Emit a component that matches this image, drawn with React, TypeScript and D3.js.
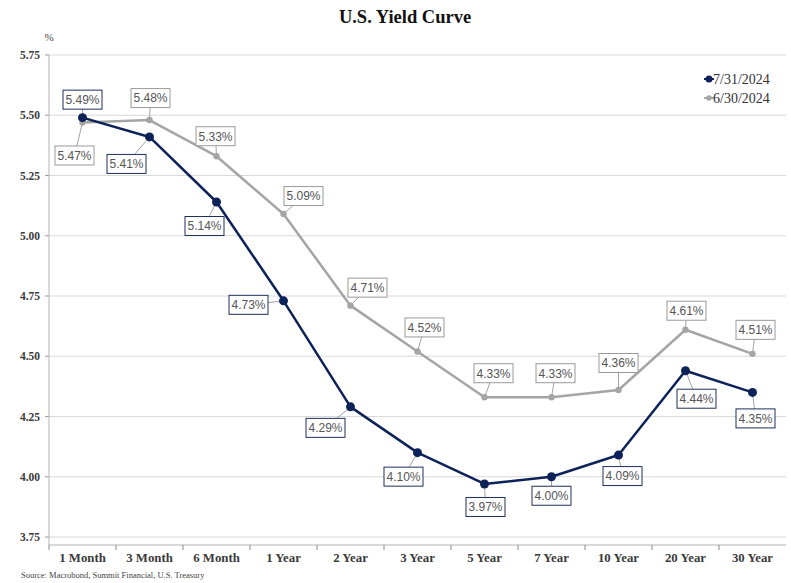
import React from "react";
import * as d3 from "d3";

// Treasury maturities on the x axis
const maturities = [
  "1 Month", "3 Month", "6 Month", "1 Year", "2 Year", "3 Year",
  "5 Year", "7 Year", "10 Year", "20 Year", "30 Year",
];

// Yields (%) at each maturity
const yieldsJul31 = [5.49, 5.41, 5.14, 4.73, 4.29, 4.10, 3.97, 4.00, 4.09, 4.44, 4.35];
const yieldsJun30 = [5.47, 5.48, 5.33, 5.09, 4.71, 4.52, 4.33, 4.33, 4.36, 4.61, 4.51];

const seriesNames = ["7/31/2024", "6/30/2024"];
const yTicks = [3.75, 4.0, 4.25, 4.5, 4.75, 5.0, 5.25, 5.5, 5.75];

// Label box offsets (px) from each point
const offsetsJul31: [number, number][] = [
  [0, -18], [-23, 27], [-12, 24], [-35, 4], [-25, 21], [-14, 24],
  [1, 23], [0, 19], [4, 21], [11, 28], [3, 26],
];
const offsetsJun30: [number, number][] = [
  [-8, 33], [1, -22], [-1, -20], [20, -18], [17, -18], [7, -24],
  [9, -24], [4, -24], [0, -27], [1, -19], [3, -24],
];

const W = 791;
const H = 583;
const left = 49;
const right = 786;
const top = 55;
const bottom = 537;
const axisY = 545;

const NAVY = "#0c2259";
const GRAY = "#a5a5a5";
const SERIF = "'Liberation Serif', 'DejaVu Serif', serif";
const SANS = "Arial, 'Liberation Sans', sans-serif";

export default function App() {
  const x = d3.scaleBand<string>().domain(maturities).range([left, right]);
  const y = d3.scaleLinear().domain([3.75, 5.75]).range([bottom, top]);
  const cx = (m: string) => (x(m) as number) + x.bandwidth() / 2;

  const line = d3
    .line<number>()
    .x((_, i) => cx(maturities[i]))
    .y((v) => y(v));

  const series = [
    { name: seriesNames[0], values: yieldsJul31, color: NAVY, r: 4.5, offsets: offsetsJul31, border: "#1f2f5c" },
    { name: seriesNames[1], values: yieldsJun30, color: GRAY, r: 3.2, offsets: offsetsJun30, border: "#9a9a9a" },
  ];

  const boxW = 39;
  const boxH = 19;

  return (
    <svg
      width={W}
      height={H}
      style={{ position: "absolute", left: 0, top: 0, background: "#fff" }}
    >
      <rect width={W} height={H} fill="#fff" />
      <text x={405} y={23} textAnchor="middle" fontFamily={SERIF} fontWeight="bold" fontSize={18.5} fill="#111">
        U.S. Yield Curve
      </text>

      {/* gridlines and y axis */}
      {yTicks.map((t) => (
        <g key={t}>
          <line x1={left} x2={right} y1={y(t)} y2={y(t)} stroke="#d9d9d9" strokeWidth={1} />
          <line x1={left - 4} x2={left} y1={y(t)} y2={y(t)} stroke="#9a9a9a" strokeWidth={1} />
          <text x={40} y={y(t) + 4} textAnchor="end" fontFamily={SERIF} fontWeight="bold" fontSize={11.5} fill="#3a3a3a">
            {t.toFixed(2)}
          </text>
        </g>
      ))}
      <text x={49} y={41} textAnchor="middle" fontFamily={SERIF} fontSize={11} fill="#444">%</text>
      <line x1={left} x2={left} y1={top} y2={axisY} stroke="#b5b5b5" strokeWidth={1} />

      {/* x axis */}
      <line x1={left} x2={right} y1={axisY} y2={axisY} stroke="#b5b5b5" strokeWidth={1} />
      {maturities.map((m, i) => (
        <line key={"t" + i} x1={x(m) as number} x2={x(m) as number} y1={axisY} y2={axisY + 5} stroke="#888" strokeWidth={1} />
      ))}
      {maturities.map((m) => (
        <text key={m} x={cx(m)} y={562} textAnchor="middle" fontFamily={SERIF} fontWeight="bold" fontSize={12.8} fill="#3a3a3a">
          {m}
        </text>
      ))}

      {/* leader lines from points to their value boxes */}
      {series.map((s) =>
        s.values.map((v, i) => (
          <line
            key={s.name + "l" + i}
            x1={cx(maturities[i])}
            y1={y(v)}
            x2={cx(maturities[i]) + s.offsets[i][0]}
            y2={y(v) + s.offsets[i][1]}
            stroke="#8a8a8a"
            strokeWidth={0.8}
          />
        ))
      )}

      {/* series lines and markers, older curve underneath */}
      {[...series].reverse().map((s) => (
        <g key={s.name}>
          <path d={line(s.values) as string} fill="none" stroke={s.color} strokeWidth={2.5} strokeLinejoin="round" />
          {s.values.map((v, i) => (
            <circle key={i} cx={cx(maturities[i])} cy={y(v)} r={s.r} fill={s.color} />
          ))}
        </g>
      ))}

      {/* value boxes */}
      {series.map((s) =>
        s.values.map((v, i) => {
          const bx = cx(maturities[i]) + s.offsets[i][0];
          const by = y(v) + s.offsets[i][1];
          return (
            <g key={s.name + "b" + i}>
              <rect x={bx - boxW / 2} y={by - boxH / 2} width={boxW} height={boxH} fill="#fff" stroke={s.border} strokeWidth={1} />
              <text x={bx} y={by + 4.3} textAnchor="middle" fontFamily={SANS} fontSize={12} fill="#555">
                {v.toFixed(2)}%
              </text>
            </g>
          );
        })
      )}

      {/* legend */}
      {series.map((s, i) => (
        <g key={"lg" + i} transform={`translate(0, ${79 + i * 19})`}>
          <line x1={704} x2={714} y1={0} y2={0} stroke={s.color} strokeWidth={2} />
          <circle cx={709} cy={0} r={i === 0 ? 3.5 : 2.8} fill={s.color} />
          <text x={713} y={4.5} fontFamily={SERIF} fontSize={14} fill="#333">
            {s.name}
          </text>
        </g>
      ))}

      <text x={21} y={578} fontFamily={SERIF} fontSize={8.5} fill="#444">
        Source: Macrobond, Summit Financial, U.S. Treasury
      </text>
    </svg>
  );
}
